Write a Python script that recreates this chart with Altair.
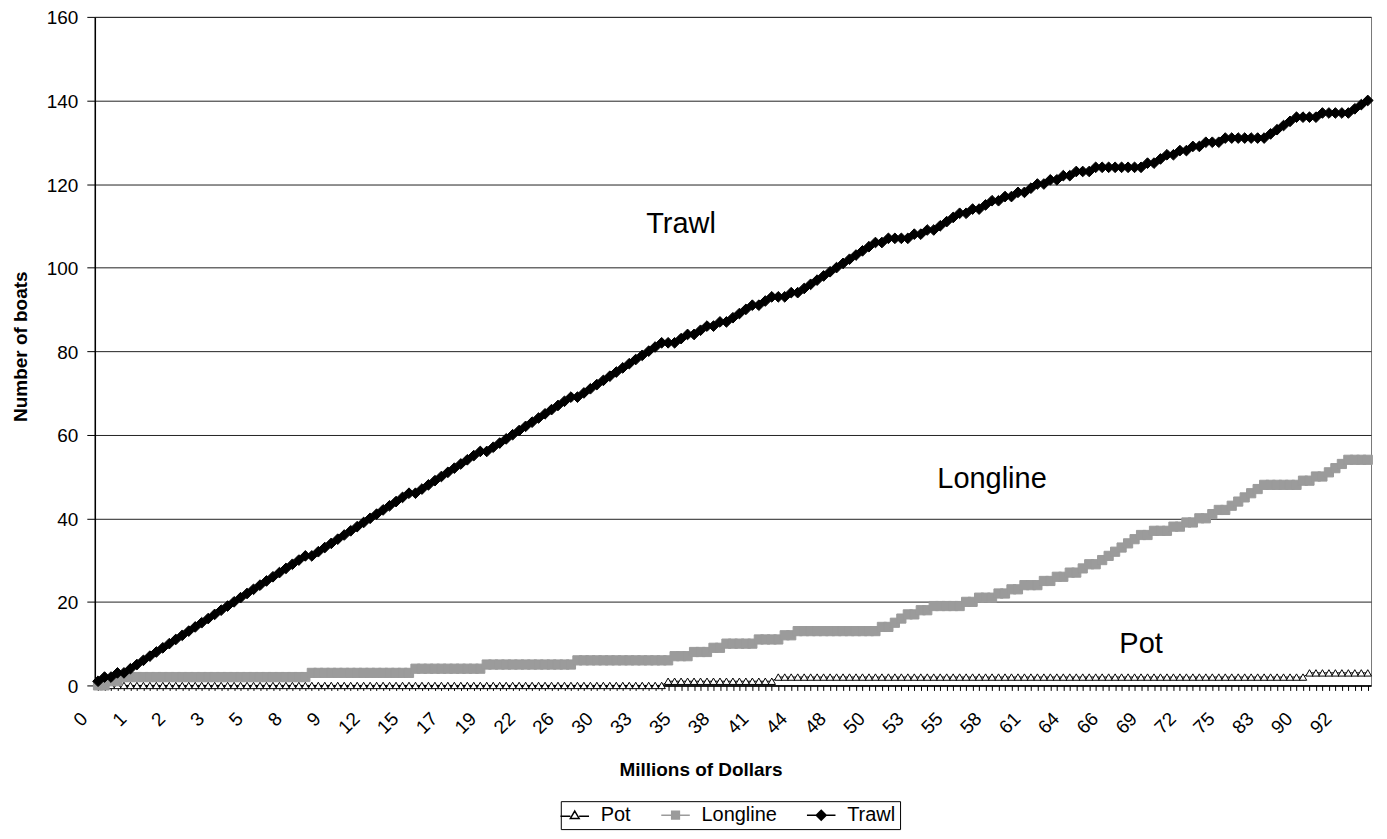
import altair as alt
import pandas as pd

series_names = ["Pot", "Longline", "Trawl"]

x_labels = ["0", "1", "2", "3", "5", "8", "9", "12", "15", "17", "19", "22", "26",
            "30", "33", "35", "38", "41", "44", "48", "50", "53", "55", "58", "61",
            "64", "66", "69", "72", "75", "83", "90", "92"]

pot = [
    0, 0, 0, 0, 0, 0, 0, 0, 0, 0,
    0, 0, 0, 0, 0, 0, 0, 0, 0, 0,
    0, 0, 0, 0, 0, 0, 0, 0, 0, 0,
    0, 0, 0, 0, 0, 0, 0, 0, 0, 0,
    0, 0, 0, 0, 0, 0, 0, 0, 0, 0,
    0, 0, 0, 0, 0, 0, 0, 0, 0, 0,
    0, 0, 0, 0, 0, 0, 0, 0, 0, 0,
    0, 0, 0, 0, 0, 0, 0, 0, 0, 0,
    0, 0, 0, 0, 0, 0, 0, 0, 1, 1,
    1, 1, 1, 1, 1, 1, 1, 1, 1, 1,
    1, 1, 1, 1, 1, 2, 2, 2, 2, 2,
    2, 2, 2, 2, 2, 2, 2, 2, 2, 2,
    2, 2, 2, 2, 2, 2, 2, 2, 2, 2,
    2, 2, 2, 2, 2, 2, 2, 2, 2, 2,
    2, 2, 2, 2, 2, 2, 2, 2, 2, 2,
    2, 2, 2, 2, 2, 2, 2, 2, 2, 2,
    2, 2, 2, 2, 2, 2, 2, 2, 2, 2,
    2, 2, 2, 2, 2, 2, 2, 2, 2, 2,
    2, 2, 2, 2, 2, 2, 2, 3, 3, 3,
    3, 3, 3, 3, 3, 3, 3,
]

longline = [
    0, 0, 1, 1, 2, 2, 2, 2, 2, 2,
    2, 2, 2, 2, 2, 2, 2, 2, 2, 2,
    2, 2, 2, 2, 2, 2, 2, 2, 2, 2,
    2, 2, 2, 3, 3, 3, 3, 3, 3, 3,
    3, 3, 3, 3, 3, 3, 3, 3, 3, 4,
    4, 4, 4, 4, 4, 4, 4, 4, 4, 4,
    5, 5, 5, 5, 5, 5, 5, 5, 5, 5,
    5, 5, 5, 5, 6, 6, 6, 6, 6, 6,
    6, 6, 6, 6, 6, 6, 6, 6, 6, 7,
    7, 7, 8, 8, 8, 9, 9, 10, 10, 10,
    10, 10, 11, 11, 11, 11, 12, 12, 13, 13,
    13, 13, 13, 13, 13, 13, 13, 13, 13, 13,
    13, 14, 14, 15, 16, 17, 17, 18, 18, 19,
    19, 19, 19, 19, 20, 20, 21, 21, 21, 22,
    22, 23, 23, 24, 24, 24, 25, 25, 26, 26,
    27, 27, 28, 29, 29, 30, 31, 32, 33, 34,
    35, 36, 36, 37, 37, 37, 38, 38, 39, 39,
    40, 40, 41, 42, 42, 43, 44, 45, 46, 47,
    48, 48, 48, 48, 48, 48, 49, 49, 50, 50,
    51, 52, 53, 54, 54, 54, 54,
]

trawl = [
    1, 2, 2, 3, 3, 4, 5, 6, 7, 8,
    9, 10, 11, 12, 13, 14, 15, 16, 17, 18,
    19, 20, 21, 22, 23, 24, 25, 26, 27, 28,
    29, 30, 31, 31, 32, 33, 34, 35, 36, 37,
    38, 39, 40, 41, 42, 43, 44, 45, 46, 46,
    47, 48, 49, 50, 51, 52, 53, 54, 55, 56,
    56, 57, 58, 59, 60, 61, 62, 63, 64, 65,
    66, 67, 68, 69, 69, 70, 71, 72, 73, 74,
    75, 76, 77, 78, 79, 80, 81, 82, 82, 82,
    83, 84, 84, 85, 86, 86, 87, 87, 88, 89,
    90, 91, 91, 92, 93, 93, 93, 94, 94, 95,
    96, 97, 98, 99, 100, 101, 102, 103, 104, 105,
    106, 106, 107, 107, 107, 107, 108, 108, 109, 109,
    110, 111, 112, 113, 113, 114, 114, 115, 116, 116,
    117, 117, 118, 118, 119, 120, 120, 121, 121, 122,
    122, 123, 123, 123, 124, 124, 124, 124, 124, 124,
    124, 124, 125, 125, 126, 127, 127, 128, 128, 129,
    129, 130, 130, 130, 131, 131, 131, 131, 131, 131,
    131, 132, 133, 134, 135, 136, 136, 136, 136, 137,
    137, 137, 137, 137, 138, 139, 140,
]

annot_labels = ["Trawl", "Longline", "Pot"]
annot_idx = [90, 138, 161]
annot_boats = [110.4, 49.3, 10.0]

rows = []
for name, vals in zip(series_names, [pot, longline, trawl]):
    for i, v in enumerate(vals):
        rows.append({"idx": i, "boats": v, "series": name})
df = pd.DataFrame(rows)
n = len(trawl)

ann_df = pd.DataFrame({"idx": annot_idx, "boats": annot_boats, "label": annot_labels})

FONT = "Liberation Sans"
label_js = "[" + ",".join("'" + s + "'" for s in x_labels) + "]"

x_enc = alt.X(
    "idx:Q",
    scale=alt.Scale(domain=[-0.5, n - 0.5], nice=False, zero=False),
    axis=alt.Axis(
        values=list(range(n)),
        labelExpr="datum.value % 6 === 0 ? " + label_js + "[datum.value / 6] : ''",
        title="Millions of Dollars",
        labelAngle=315,
        labelAlign="right",
        labelBaseline="middle",
        labelPadding=25,
        labelOffset=-14,
        tickSize=5,
        labelOverlap=False,
        labelBound=False,
        labelFlush=False,
        grid=False,
        titleX=607,
        titleY=84,
        titleAlign="center",
        titleBaseline="middle",
        labelFont=FONT, labelFontSize=19, labelColor="black",
        titleFont=FONT, titleFontSize=19, titleFontWeight="bold", titleColor="black",
        domainColor="black", tickColor="black", domainWidth=1.5,
    ),
)
y_enc = alt.Y(
    "boats:Q",
    scale=alt.Scale(domain=[0, 160], nice=False),
    axis=alt.Axis(
        values=list(range(0, 161, 20)),
        title="Number of boats",
        grid=True,
        gridColor="#222222",
        gridWidth=1,
        tickSize=8,
        labelPadding=9,
        labelOffset=1,
        titleX=-74,
        titleY=330,
        titleAngle=270,
        titleAlign="center",
        titleBaseline="middle",
        labelFont=FONT, labelFontSize=19, labelColor="black",
        titleFont=FONT, titleFontSize=19, titleFontWeight="bold", titleColor="black",
        domainColor="black", tickColor="black", domainWidth=1.5,
    ),
)

styles = {
    "Pot": dict(line_color="black", line_w=1, shape="triangle-up", fill="white",
                stroke="black", size=55),
    "Longline": dict(line_color="#9b9b9b", line_w=2, shape="square", fill="#9b9b9b",
                     stroke="#9b9b9b", size=85),
    "Trawl": dict(line_color="black", line_w=2, shape="diamond", fill="black",
                  stroke="black", size=115),
}

base = alt.Chart(df)
layers = []
for name in series_names:
    st = styles[name]
    sub = base.transform_filter(alt.datum.series == name)
    layers.append(sub.mark_line(color=st["line_color"], strokeWidth=st["line_w"]).encode(x=x_enc, y=y_enc))
    layers.append(sub.mark_point(shape=st["shape"], filled=True, fill=st["fill"], stroke=st["stroke"],
                                 strokeWidth=1, size=st["size"], opacity=1).encode(x=x_enc, y=y_enc))

legend_paths = [
    "M-2.6,0.2H-0.8M0.8,0.2H2.6M0,-0.75L0.8,0.6L-0.8,0.6Z",
    "M-2.6,0H2.6M-0.7,-0.7H0.7V0.7H-0.7Z",
    "M-2.6,0H2.6M0,-0.9L0.9,0L0,0.9L-0.9,0Z",
]
leg = alt.Legend(
    title=None, orient="none", legendX=467, legendY=786, direction="horizontal",
    labelFont=FONT, labelFontSize=20, labelColor="black", symbolSize=121,
    symbolStrokeWidth=1.5, symbolOpacity=1, labelOffset=16, columnPadding=26,
    strokeColor="black", padding=4, fillColor="white",
)
legend_layer = base.transform_filter("false").mark_point(filled=True).encode(
    x=x_enc, y=y_enc,
    shape=alt.Shape("series:N", scale=alt.Scale(domain=series_names, range=legend_paths), legend=leg),
    fill=alt.Fill("series:N", scale=alt.Scale(domain=series_names, range=["white", "#9b9b9b", "black"]), legend=leg),
    stroke=alt.Stroke("series:N", scale=alt.Scale(domain=series_names, range=["black", "#9b9b9b", "black"]), legend=leg),
)

text_layer = alt.Chart(ann_df).mark_text(font=FONT, fontSize=29, color="black",
                                         align="center", baseline="middle").encode(
    x=x_enc, y=y_enc, text="label:N")

chart = alt.layer(*layers, legend_layer, text_layer).properties(
    width=1279, height=670,
    background="white",
    autosize=alt.AutoSizeParams(type="none"),
    padding={"left": 87, "top": 8, "right": 8, "bottom": 150},
).configure_view(stroke="#777777", strokeWidth=1)

chart.save("out.html", embed_options={"renderer": "svg", "actions": False})
